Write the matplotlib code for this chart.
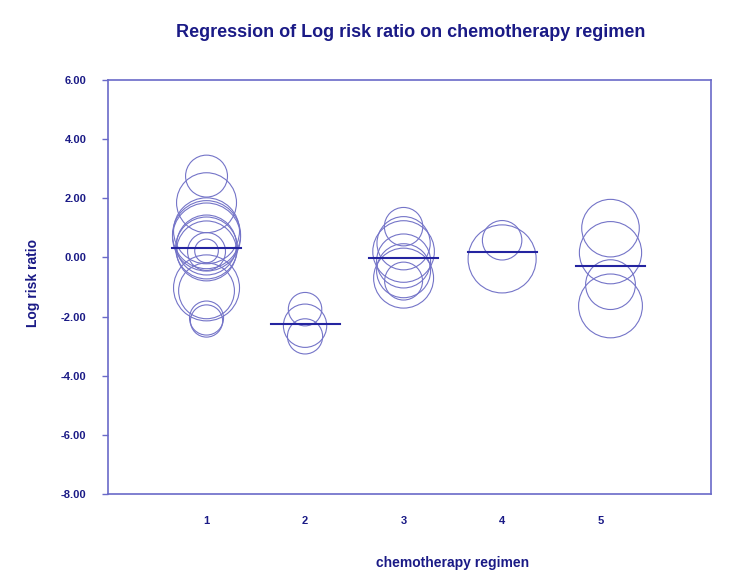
import numpy as np
import matplotlib
matplotlib.use('Agg')
import matplotlib.pyplot as plt

plt.rcParams['font.family'] = ['Liberation Sans', 'DejaVu Sans']

# studies: regimen group, log risk ratio, relative weight
group = [1] * 14 + [2] * 3 + [3] * 7 + [4] * 2 + [5] * 4
log_rr = [2.75, 1.85, 0.90, 0.77, 0.69, 0.42, 0.32, 0.22, 0.20, 0.22, -1.03, -1.13, -2.05, -2.15,
          -1.75, -2.31, -2.67,
          1.04, 0.48, 0.20, -0.12, -0.45, -0.70, -0.80,
          0.58, -0.05,
          0.99, 0.16, -0.92, -1.64]
weight = [4.4, 9.0, 10.9, 11.6, 11.6, 9.0, 9.6, 9.0, 3.6, 1.4, 10.9, 7.8, 2.9, 2.6,
          2.8, 4.7, 3.1,
          3.7, 7.1, 9.5, 7.3, 7.3, 9.0, 3.6,
          3.9, 11.6,
          8.3, 9.7, 6.2, 10.2]

# fitted value per regimen and where each regimen is drawn
regimen = [1, 2, 3, 4, 5]
regimen_pos = [1.0, 2.0, 3.0, 4.0, 5.1]
fitted = [0.31, -2.26, -0.02, 0.17, -0.29]

navy = '#1a1a86'
frame = '#6a6ac8'
ring = '#7474c8'

fig = plt.figure(figsize=(7.5, 5.76), dpi=100)
ax = fig.add_axes([0.144, 0.1424, 0.804, 0.7187])

xs = [regimen_pos[regimen.index(g)] for g in group]
ax.scatter(xs, log_rr, s=np.array(weight) * 207, facecolors='none',
           edgecolors=ring, linewidths=0.8, zorder=2)

for pos, f in zip(regimen_pos, fitted):
    ax.plot([pos - 0.35, pos + 0.35], [f, f], color='#2424a0', lw=1.5, zorder=3)

ax.set_xlim(0, 6.12)
ax.set_ylim(-8, 6)
ax.set_yticks(np.arange(-8, 7, 2))
ax.set_yticklabels(['%.2f' % v for v in np.arange(-8, 7, 2)])
ax.set_xticks(regimen)
ax.set_xticklabels([str(r) for r in regimen])

for sp in ax.spines.values():
    sp.set_color(frame)
    sp.set_linewidth(1.2)
ax.tick_params(axis='y', direction='out', length=4.5, width=1.0, color=frame,
               pad=11, labelsize=8, labelcolor=navy)
ax.tick_params(axis='x', length=0, pad=16, labelsize=8, labelcolor=navy)
for lab in ax.get_xticklabels() + ax.get_yticklabels():
    lab.set_fontweight('bold')

ax.set_ylabel('Log risk ratio', fontsize=10, fontweight='bold', color=navy)
ax.yaxis.set_label_coords(-0.112, 0.51)
ax.set_xlabel('chemotherapy regimen', fontsize=10, fontweight='bold', color=navy, va='center')
ax.xaxis.set_label_coords(0.572, -0.167)
fig.text(0.547, 0.944, 'Regression of Log risk ratio on chemotherapy regimen',
         ha='center', va='center', fontsize=13, fontweight='bold', color=navy)

plt.savefig('out.png', dpi=100)
